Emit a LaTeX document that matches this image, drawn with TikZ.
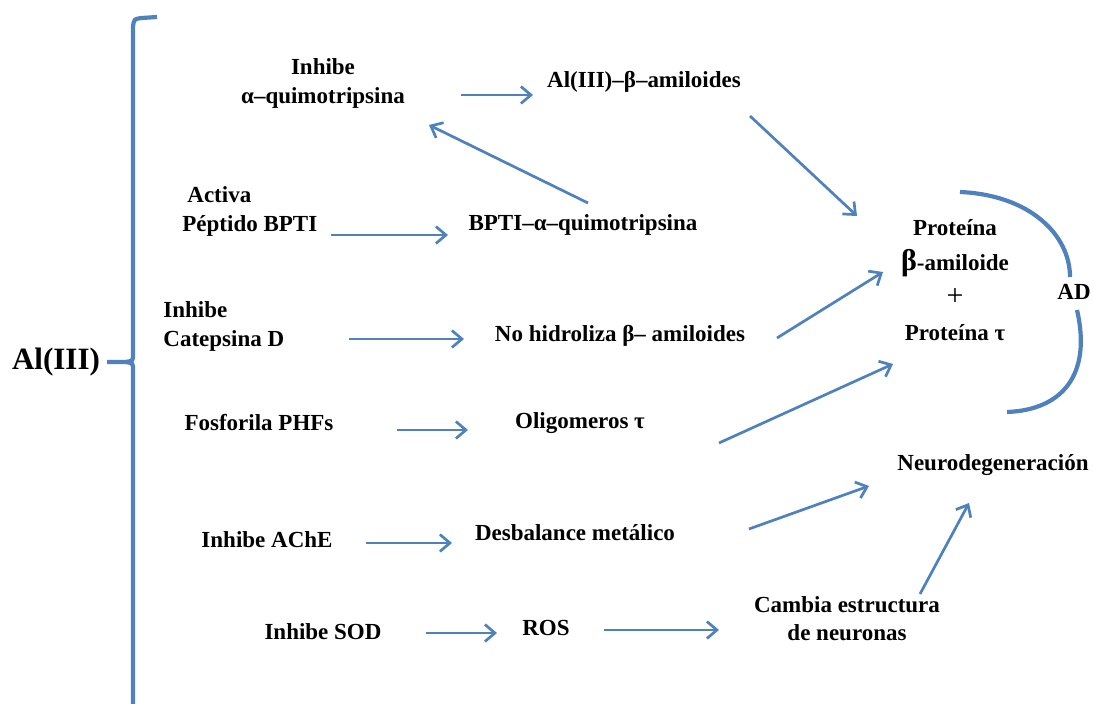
\documentclass[tikz,border=0pt]{standalone}
\usepackage{fontspec}
\setmainfont{Liberation Serif}
\usetikzlibrary{arrows.meta, calc}
\definecolor{lineblue}{RGB}{79,129,189}

\begin{document}
\begin{tikzpicture}[x=0.5pt, y=-0.5pt,
    lbl/.style={inner sep=0pt, font=\fontsize{11.5}{14.5}\selectfont\bfseries},
    arr/.style={draw=lineblue, line width=1.35pt, -{Straight Barb[length=5pt, width=8.5pt]}},
    brk/.style={draw=lineblue, line width=2.1pt}]
                        \useasboundingbox (0, 0) rectangle (1093, 704);

                        \node[lbl] (al) at (56, 362) {\fontsize{15.5}{18}\selectfont Al(III)};
                        \node[lbl, align=center] (iqm) at (323, 83) {Inhibe\\α–quimotripsina};
                        \node[lbl] (aba) at (644, 82) {Al(III)–β–amiloides};
                        \node[lbl, align=left, anchor=west] (pep) at (182, 211) {\hspace*{2.5pt}Activa\\Péptido BPTI};
                        \node[lbl] (bq) at (583, 225) {BPTI–α–quimotripsina};
                        \node[lbl, align=left, anchor=west] (cat) at (163, 326) {Inhibe\\Catepsina D};
                        \node[lbl] (nh) at (620, 336) {No hidroliza β– amiloides};
                        \node[lbl] (phf) at (259, 423) {Fosforila PHFs};
                        \node[lbl] (oli) at (580, 423) {Oligomeros τ};
                        \node[lbl] (ache) at (267, 540) {Inhibe AChE};
                        \node[lbl] (dm) at (575, 533) {Desbalance metálico};
                        \node[lbl] (sod) at (323, 632) {Inhibe SOD};
                        \node[lbl] (ros) at (546, 628) {ROS};
                        \node[lbl, align=center, font=\fontsize{11.5}{14}\selectfont\bfseries] (cam) at (847, 619) {Cambia estructura\\de neuronas};
                        \node[lbl] (neu) at (993, 465) {Neurodegeneración};
                        \node[lbl, align=center, font=\fontsize{11.5}{17.5}\selectfont\bfseries] (prot) at (955, 280)
                        {Proteína\\{\fontsize{15}{17.5}\selectfont β}-amiloide\\{\fontsize{15}{17.5}\selectfont\mdseries +}\\Proteína τ};
                        \node[lbl] (ad) at (1074, 292) {AD};

                        % bracket
                        \draw[brk]
                        (157, 17) -- (142, 18) .. controls (134, 19) .. (133, 27) -- (133, 354)
                        .. controls (133, 361) .. (125, 362) -- (107, 362)
                        (125, 362) .. controls (133, 363) .. (133, 370) -- (133, 704);

                        % AD arcs
                        \draw[brk]
                        (960, 192) .. controls (1030, 195) and (1070, 235) .. (1070, 277)
                        (1077, 310) .. controls (1092, 375) and (1062, 410) .. (1007, 412);

                        \draw[arr] ($(iqm)+(138, 12)$) -- ($(aba)+(-111, 13)$);
                        \draw[arr] ($(pep.west)+(149, 24)$) -- ($(bq)+(-135, 10)$);
                        \draw[arr] ($(bq)+(5, -22)$) -- ($(iqm)+(106, 42)$);
                        \draw[arr] ($(cat.west)+(186, 13)$) -- ($(nh)+(-156, 3)$);
                        \draw[arr] ($(phf)+(138, 7)$) -- ($(oli)+(-112, 7)$);
                        \draw[arr] ($(ache)+(99, 3)$) -- ($(dm)+(-123, 10)$);
                        \draw[arr] ($(sod)+(103, 1)$) -- ($(ros)+(-49, 5)$);
                        \draw[arr] ($(ros)+(58, 2)$) -- ($(cam)+(-128, 11)$);
                        \draw[arr] ($(cam)+(73, -25)$) -- ($(neu)+(-24, 38)$);
                        \draw[arr] ($(dm)+(174, -4)$) -- ($(neu)+(-124, 21)$);
                        \draw[arr] ($(oli)+(139, 20)$) -- ($(prot)+(-62, 84)$);
                        \draw[arr] ($(nh)+(157, 2)$) -- ($(prot)+(-72, -8)$);
                        \draw[arr] ($(aba)+(106, 34)$) -- ($(prot)+(-98, -64)$);
                    \end{tikzpicture}
\end{document}
